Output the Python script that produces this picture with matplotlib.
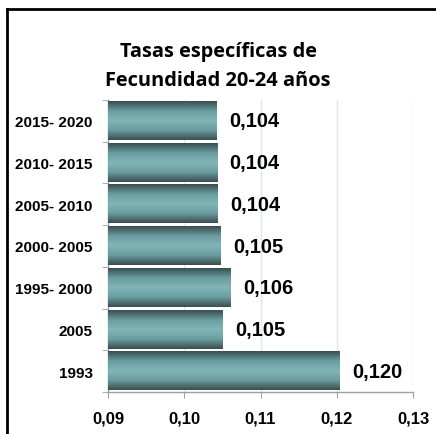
import matplotlib
matplotlib.use("Agg")
import matplotlib.pyplot as plt
from matplotlib.colors import LinearSegmentedColormap
import numpy as np

categories = ["1993", "2005", "1995- 2000", "2000- 2005", "2005- 2010", "2010- 2015", "2015- 2020"]
values = [0.1204, 0.1050, 0.1061, 0.1048, 0.1044, 0.1043, 0.1042]
value_labels = ["0,120", "0,105", "0,106", "0,105", "0,104", "0,104", "0,104"]
xticks = [0.09, 0.10, 0.11, 0.12, 0.13]
xtick_labels = ["0,09", "0,10", "0,11", "0,12", "0,13"]

fig = plt.figure(figsize=(4.36, 4.35), dpi=100)
ax = fig.add_axes([108/436, 1 - 393/435, 305/436, 292/435])

ypos = np.arange(len(categories))
bars = ax.barh(ypos, values, height=0.92, left=0, color="none", zorder=3)
ax.set_xlim(0.09, 0.13)
ax.set_ylim(-0.5, len(categories) - 0.5)

# vertical gradient: dark edges, light teal middle
cmap = LinearSegmentedColormap.from_list(
    "bar", [(0, "#3a4f51"), (0.25, "#6a9da0"), (0.5, "#81b5b8"),
            (0.75, "#6a9da0"), (1, "#3a4f51")])
grad = np.linspace(0, 1, 64).reshape(-1, 1)
for b in bars:
    x0 = 0.09
    x1 = b.get_width()
    y0 = b.get_y()
    y1 = y0 + b.get_height()
    ax.imshow(grad, cmap=cmap, aspect="auto", extent=(x0, x1, y0, y1),
              interpolation="bilinear", zorder=3)

for y, v, lab in zip(ypos, values, value_labels):
    ax.annotate(lab, (v, y), xytext=(9, 0), textcoords="offset points",
                va="center", ha="left", fontsize=14.5, fontweight="bold",
                family="Liberation Sans", color="black", zorder=4)

ax.set_xticks(xticks)
ax.set_xticklabels(xtick_labels, fontsize=12, fontweight="bold", family="Liberation Sans")
ax.set_yticks(ypos)
ax.set_yticklabels(categories, fontsize=11, fontweight="bold", family="Liberation Sans")
ax.set_yticks(np.arange(-0.5, len(categories), 1), minor=True)
ax.tick_params(axis="y", which="major", length=0, pad=11)
ax.tick_params(axis="y", which="minor", length=4, color="#a0a0a0", direction="out")
ax.tick_params(axis="x", length=4, color="#a0a0a0", pad=9)

ax.grid(axis="x", color="#dce6ee", linewidth=1, zorder=0)
ax.set_axisbelow(True)
for s in ["top", "right"]:
    ax.spines[s].set_visible(False)
for s in ["left", "bottom"]:
    ax.spines[s].set_color("#a0a0a0")
    ax.spines[s].set_linewidth(1)

fig.text(218/436, 1 - 52/435, "Tasas específicas de", ha="center", va="center",
         fontsize=14.4, fontweight="bold", family="Open Sans")
fig.text(218/436, 1 - 81/435, "Fecundidad 20-24 años", ha="center", va="center",
         fontsize=14.4, fontweight="bold", family="Open Sans")

# outer frame (top and left edges visible)
fig.add_artist(plt.Line2D([7/436, 7/436], [0, 1 - 10/435], color="black", linewidth=2))
fig.add_artist(plt.Line2D([7/436, 1], [1 - 10/435, 1 - 10/435], color="black", linewidth=2))

fig.savefig("out.png", dpi=100)
